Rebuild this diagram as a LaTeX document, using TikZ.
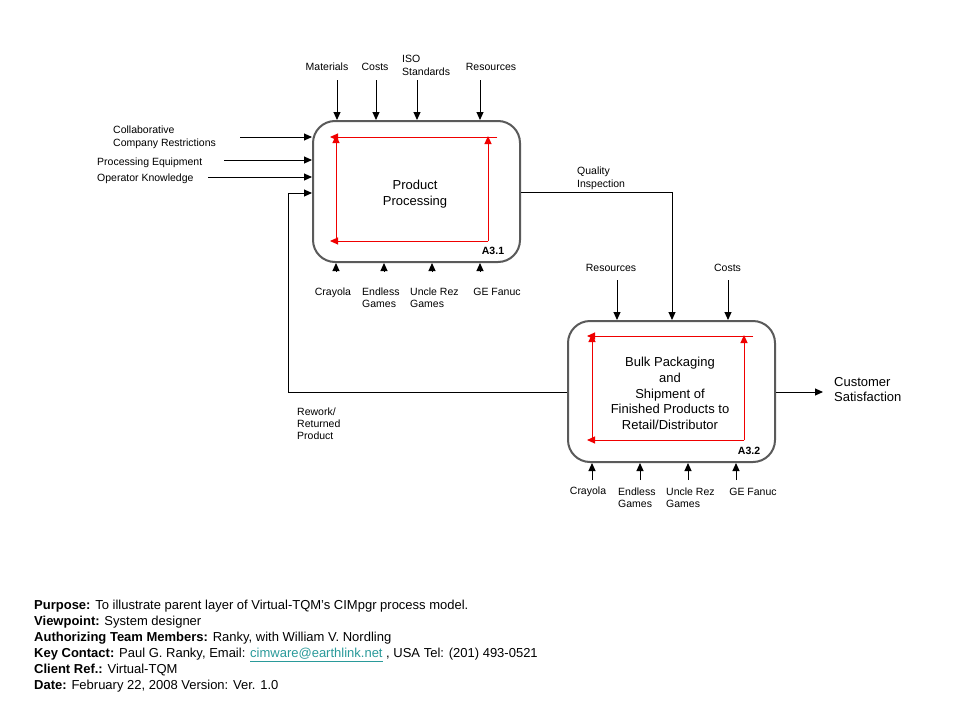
\documentclass[tikz,border=0pt]{standalone}
\usepackage{fontspec}
\setmainfont{Liberation Sans}
\usetikzlibrary{arrows.meta}
\definecolor{boxgray}{HTML}{5A5A5A}
\definecolor{redline}{HTML}{F00000}
\definecolor{linkteal}{HTML}{2A9A9A}
\begin{document}
\begin{tikzpicture}[x=1pt,y=-1pt,
  arr/.style={-{Triangle[length=8pt,width=7pt]}, line width=1pt},
  redarr/.style={-{Triangle[length=8pt,width=7pt]}, line width=1pt, draw=redline, fill=redline},
  procbox/.style={draw=boxgray, line width=2pt, rounded corners=22pt, minimum width=207pt, minimum height=141pt, inner sep=0},
  lbl/.style={font=\fontsize{10.5}{12.5}\selectfont, inner sep=0, align=left},
  ctr/.style={font=\fontsize{10.5}{12.5}\selectfont, inner sep=0, align=center},
  big/.style={font=\fontsize{13}{15.8}\selectfont, inner sep=0, align=center},
  bigl/.style={font=\fontsize{13}{15.6}\selectfont, inner sep=0, align=left},
  tag/.style={font=\bfseries\fontsize{10.5}{12}\selectfont, inner sep=0},
  foot/.style={font=\fontsize{13}{16}\selectfont, inner sep=0, anchor=base west}]
\useasboundingbox (0,0) rectangle (960,720);
\fill[white] (0,0) rectangle (960,720);

% boxes
\node[procbox] (b1) at (416.5,191.5) {};
\node[procbox] (b2) at (671.5,391.5) {};

% red inner loops, box 1
\draw[redarr] (497,137) -- (330,137);
\draw[redarr] (336,241) -- (336,135);
\draw[redarr] (488,241) -- (488,136);
\draw[redarr] (488,241) -- (330,241);
% red inner loops, box 2
\draw[redarr] (753,336) -- (587,336);
\draw[redarr] (592,440) -- (592,334);
\draw[redarr] (744,440) -- (744,335);
\draw[redarr] (744,440) -- (587,440);

% box texts
\node[big] (t1) at (415,194) {Product\\Processing};
\node[tag] (a31) at (493,251) {A3.1};
\node[big] (t2) at (670,393.5) {Bulk Packaging\\and\\Shipment of\\Finished Products to\\Retail/Distributor};
\node[tag] (a32) at (749,451) {A3.2};

% box 1 controls (top)
\node[ctr] (lmat) at (327,67) {Materials};
\node[ctr] (lcost) at (375,67) {Costs};
\node[lbl, anchor=west] (liso) at (402,65.5) {ISO\\Standards};
\node[ctr] (lres) at (491,67) {Resources};
\coordinate (cmat) at (337,80);
\coordinate (ccost) at (376,80);
\coordinate (ciso) at (417,80);
\coordinate (cres) at (480,80);
\draw[arr] (cmat) -- (cmat |- b1.north);
\draw[arr] (ccost) -- (ccost |- b1.north);
\draw[arr] (ciso) -- (ciso |- b1.north);
\draw[arr] (cres) -- (cres |- b1.north);

% box 1 inputs (left)
\node[lbl, anchor=west] (lcol) at (113,137.5) {Collaborative\\Company Restrictions};
\node[lbl, anchor=west] (lpe) at (97,163) {Processing Equipment};
\node[lbl, anchor=west] (lok) at (97,179) {Operator Knowledge};
\coordinate (icol) at (240,137);
\coordinate (ipe) at (224,160);
\coordinate (iok) at (208,177);
\draw[arr] (icol) -- (icol -| b1.west);
\draw[arr] (ipe) -- (ipe -| b1.west);
\draw[arr] (iok) -- (iok -| b1.west);

% box 1 mechanisms (bottom)
\node[ctr] (m1a) at (333,292.5) {Crayola};
\node[lbl, anchor=west] (m1b) at (362,297.5) {Endless\\Games};
\node[lbl, anchor=west] (m1c) at (410,297.5) {Uncle Rez\\Games};
\node[ctr] (m1d) at (497,292) {GE Fanuc};
\coordinate (k1a) at (336,272);
\coordinate (k1b) at (384,272);
\coordinate (k1c) at (432,272);
\coordinate (k1d) at (480,272);
\draw[arr] (k1a) -- (k1a |- b1.south);
\draw[arr] (k1b) -- (k1b |- b1.south);
\draw[arr] (k1c) -- (k1c |- b1.south);
\draw[arr] (k1d) -- (k1d |- b1.south);

% quality inspection
\node[lbl, anchor=west] (lqi) at (577,178.5) {Quality\\Inspection};
\coordinate (qi) at (672,192);
\draw[arr] (qi -| b1.east) -- (qi) -- (qi |- b2.north);

% box 2 controls
\node[ctr] (lres2) at (611,267.5) {Resources};
\node[ctr] (lcost2) at (727.5,267.5) {Costs};
\coordinate (cres2) at (617,280);
\coordinate (ccost2) at (728,280);
\draw[arr] (cres2) -- (cres2 |- b2.north);
\draw[arr] (ccost2) -- (ccost2 |- b2.north);

% output
\node[bigl, anchor=west] (lcs) at (834,389.5) {Customer\\Satisfaction};
\coordinate (ocs) at (823,392);
\draw[arr] (ocs -| b2.east) -- (ocs);

% rework feedback
\node[lbl, anchor=west, font=\fontsize{10.5}{12}\selectfont] (lrw) at (297,424) {Rework/\\Returned\\Product};
\coordinate (rwb) at (288,392);
\coordinate (rwt) at (288,193);
\draw[arr] (rwb -| b2.west) -- (rwb) -- (rwt) -- (rwt -| b1.west);

% box 2 mechanisms
\node[ctr] (m2a) at (588,492) {Crayola};
\node[lbl, anchor=west] (m2b) at (618,497.5) {Endless\\Games};
\node[lbl, anchor=west] (m2c) at (666,497.5) {Uncle Rez\\Games};
\node[ctr] (m2d) at (753,491.5) {GE Fanuc};
\coordinate (k2a) at (592,480);
\coordinate (k2b) at (640,480);
\coordinate (k2c) at (688,480);
\coordinate (k2d) at (736,480);
\draw[arr] (k2a) -- (k2a |- b2.south);
\draw[arr] (k2b) -- (k2b |- b2.south);
\draw[arr] (k2c) -- (k2c |- b2.south);
\draw[arr] (k2d) -- (k2d |- b2.south);

% footer
\node[foot] (f1) at (34,609.5) {\textbf{Purpose:} To illustrate parent layer of Virtual-TQM's CIMpgr process model.};
\node[foot] (f2) at (34,625.5) {\textbf{Viewpoint:} System designer};
\node[foot] (f3) at (34,641.5) {\textbf{Authorizing Team Members:} Ranky, with William V. Nordling};
\node[foot] (f4) at (34,657.5) {\textbf{Key Contact:} Paul G. Ranky, Email: \textcolor{linkteal}{\underline{cimware@earthlink.net}} , USA Tel: (201) 493-0521};
\node[foot] (f5) at (34,673.5) {\textbf{Client Ref.:} Virtual-TQM};
\node[foot] (f6) at (34,689.5) {\textbf{Date:} February 22, 2008 Version: Ver. 1.0};
\end{tikzpicture}
\end{document}
